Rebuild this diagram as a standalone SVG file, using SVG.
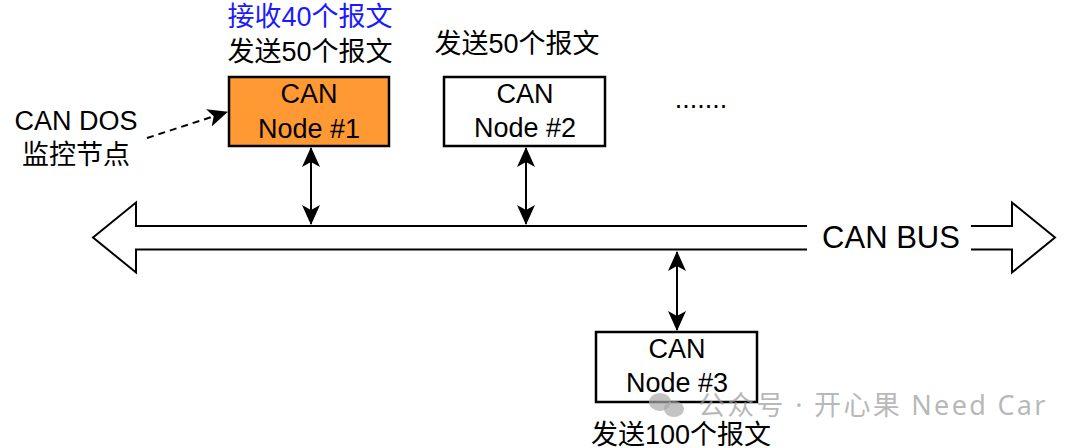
<svg xmlns="http://www.w3.org/2000/svg" width="1080" height="448" viewBox="0 0 1080 448">
<defs>
<marker id="ah" viewBox="0 0 20 18" refX="19" refY="9" markerWidth="20" markerHeight="18" markerUnits="userSpaceOnUse" orient="auto-start-reverse">
<path d="M0,0 L20,9 L0,18 L5,9 z" fill="#000"/>
</marker>
<style>
.t{font-family:"Liberation Sans","Noto Sans CJK SC",sans-serif;font-size:27px;fill:#000;text-anchor:middle}
.box{stroke:#000;stroke-width:2.5;fill:#fff}
.con{stroke:#000;stroke-width:2;fill:none}
.wm{font-family:"Noto Sans","Noto Sans CJK SC",sans-serif;font-size:27px;fill:#999;fill-opacity:0.7}
</style>
</defs>
<rect width="1080" height="448" fill="#fff"/>
<g id="bus">
<polygon points="93,237.5 136,202.5 136,226 1012,226 1012,202.5 1055,237.5 1012,272.5 1012,249.5 136,249.5 136,272.5" fill="#fff" stroke="#000" stroke-width="2"/>
<rect x="807" y="224" width="164" height="28" fill="#fff"/>
<text class="t" x="891" y="248" style="font-size:31px">CAN BUS</text>
</g>
<g id="node1">
<rect class="box" x="229" y="77" width="160" height="69" style="fill:#FF9933"/>
<text class="t" x="309" y="103">CAN</text>
<text class="t" x="309" y="138">Node #1</text>
</g>
<g id="node2">
<rect class="box" x="444" y="77" width="161" height="69"/>
<text class="t" x="525" y="103">CAN</text>
<text class="t" x="525" y="137">Node #2</text>
</g>
<g id="node3">
<rect class="box" x="596" y="332" width="161" height="70"/>
<text class="t" x="677" y="358">CAN</text>
<text class="t" x="677" y="392">Node #3</text>
</g>
<g id="dos">
<text class="t" x="76" y="130">CAN DOS</text>
<text class="t" x="76" y="164">监控节点</text>
</g>
<g id="labels">
<text class="t" x="310" y="26" style="fill:#1a1aff">接收40个报文</text>
<text class="t" x="310" y="61">发送50个报文</text>
<text class="t" x="517" y="53">发送50个报文</text>
<text class="t" x="701" y="108">.......</text>
<text class="t" x="681" y="444">发送100个报文</text>
</g>
<g id="connectors">
<line class="con" x1="311" y1="148" x2="311" y2="224" marker-start="url(#ah)" marker-end="url(#ah)"/>
<line class="con" x1="526" y1="148" x2="526" y2="224" marker-start="url(#ah)" marker-end="url(#ah)"/>
<line class="con" x1="677" y1="252" x2="677" y2="330" marker-start="url(#ah)" marker-end="url(#ah)"/>
<line class="con" x1="147" y1="138" x2="227" y2="112" stroke-width="2.5" stroke-dasharray="7,5" marker-end="url(#ah)"/>
</g>
<g id="watermark">
<ellipse cx="660" cy="402" rx="11" ry="9" fill="#aaa" fill-opacity="0.7"/>
<ellipse cx="674" cy="409" rx="10" ry="8" fill="#aaa" fill-opacity="0.7"/>
<text class="wm" x="698" y="415" style="letter-spacing:2.3px">公众号 · 开心果 Need Car</text>
</g>
</svg>
